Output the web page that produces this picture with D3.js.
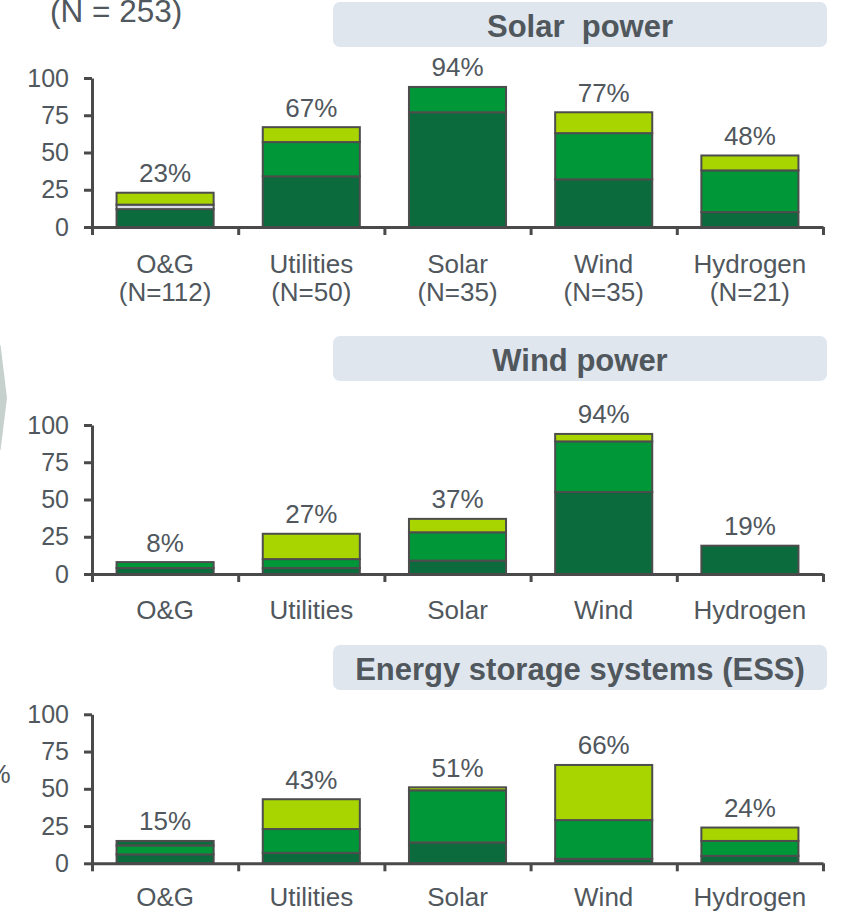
<!DOCTYPE html>
<html>
<head>
<meta charset="utf-8">
<script src="https://cdn.jsdelivr.net/npm/d3@7"></script>
<style>
  html, body { margin: 0; padding: 0; background: #ffffff; }
  svg { display: block; font-family: Arial, "Liberation Sans", sans-serif; }
</style>
</head>
<body>
<svg id="chart" width="843" height="913"></svg>
<script>
// Categories and sample sizes
const categories = ["O&G", "Utilities", "Solar", "Wind", "Hydrogen"];
const sampleSizes = ["(N=112)", "(N=50)", "(N=35)", "(N=35)", "(N=21)"];
const yTicks = [0, 25, 50, 75, 100];
const panelTitles = ["Solar  power", "Wind power", "Energy storage systems (ESS)"];
const totalSample = "(N = 253)";

// Solar power — stacked shares (%)
const solarDark  = [12, 34, 77, 32, 10];
const solarMid   = [0, 23, 17, 31, 28];
const solarGrey  = [3, 0, 0, 0, 0];
const solarLight = [8, 10, 0, 14, 10];
const solarTop   = [0, 0, 0, 0, 0];

// Wind power — stacked shares (%)
const windDark  = [4, 4, 9, 55, 19];
const windMid   = [4, 6, 19, 34, 0];
const windGrey  = [0, 0, 0, 0, 0];
const windLight = [0, 17, 9, 5, 0];
const windTop   = [0, 0, 0, 0, 0];

// Energy storage systems — stacked shares (%)
const essDark  = [6, 7, 14, 3, 5];
const essMid   = [6, 16, 35, 26, 10];
const essGrey  = [0, 0, 0, 0, 0];
const essLight = [0, 20, 2, 37, 9];
const essTop   = [3, 0, 0, 0, 0];

const seriesKeys = ["dark", "mid", "grey", "light", "top"];
const seriesColors = {
  dark: "#0b6b3d",
  mid: "#009739",
  grey: "#d9dfe4",
  light: "#a8d400",
  top: "#0b6b3d"
};

function buildRows(dark, mid, grey, light, top) {
  return categories.map((c, i) => ({
    category: c, dark: dark[i], mid: mid[i], grey: grey[i], light: light[i], top: top[i]
  }));
}

const panels = [
  { title: panelTitles[0], rows: buildRows(solarDark, solarMid, solarGrey, solarLight, solarTop),
    boxTop: 2, y0: 227, y100: 78, labelGap: 45.5, showN: true },
  { title: panelTitles[1], rows: buildRows(windDark, windMid, windGrey, windLight, windTop),
    boxTop: 336, y0: 574, y100: 425, labelGap: 44.5, showN: false },
  { title: panelTitles[2], rows: buildRows(essDark, essMid, essGrey, essLight, essTop),
    boxTop: 645, y0: 863.3, y100: 714.3, labelGap: 42.5, showN: false }
];

const textColor = "#50575d";
const axisColor = "#4a4a4a";
const svg = d3.select("#chart");

// Side chevron
svg.append("polygon")
  .attr("points", "-10,345 0.5,345 7,398 0.5,450 -10,450")
  .attr("fill", "#c6d0cc");

// Axis unit on the left edge
svg.append("text")
  .attr("x", 10.5).attr("y", 783)
  .attr("text-anchor", "end")
  .attr("font-size", 26)
  .attr("fill", textColor)
  .text("%");

// Total sample size
svg.append("text")
  .attr("x", 50).attr("y", 22)
  .attr("font-size", 31.5)
  .attr("fill", textColor)
  .text(totalSample);

const xLeft = 92, xRight = 823;
const x = d3.scaleBand()
  .domain(categories)
  .range([xLeft, xRight])
  .paddingInner(0.336)
  .paddingOuter(0.168);

const stack = d3.stack().keys(seriesKeys);

panels.forEach(p => {
  const g = svg.append("g");
  const y = d3.scaleLinear().domain([0, 100]).range([p.y0, p.y100]);

  // Title box
  g.append("rect")
    .attr("x", 333).attr("y", p.boxTop)
    .attr("width", 494).attr("height", 45)
    .attr("rx", 7)
    .attr("fill", "#dfe6ee");
  g.append("text")
    .attr("x", 580).attr("y", p.boxTop + 35)
    .attr("text-anchor", "middle")
    .attr("font-size", 31)
    .attr("font-weight", "bold")
    .attr("fill", textColor)
    .attr("xml:space", "preserve")
    .style("white-space", "pre")
    .text(p.title);

  // Stacked bars
  const stacked = stack(p.rows);
  stacked.forEach(layer => {
    g.append("g")
      .selectAll("rect")
      .data(layer.filter(d => d[1] - d[0] > 0))
      .join("rect")
      .attr("x", d => x(d.data.category))
      .attr("width", x.bandwidth())
      .attr("y", d => y(d[1]))
      .attr("height", d => y(d[0]) - y(d[1]))
      .attr("fill", seriesColors[layer.key])
      .attr("stroke", "#4d4d4d")
      .attr("stroke-width", 2);
  });

  // Value labels (sum of the stack)
  g.append("g")
    .selectAll("text")
    .data(p.rows)
    .join("text")
    .attr("x", d => x(d.category) + x.bandwidth() / 2)
    .attr("y", d => y(d3.sum(seriesKeys, k => d[k])) - 10.5)
    .attr("text-anchor", "middle")
    .attr("font-size", 26)
    .attr("fill", textColor)
    .text(d => d3.sum(seriesKeys, k => d[k]) + "%");

  // Y axis
  const yAxis = d3.axisLeft(y)
    .tickValues(yTicks)
    .tickSize(8)
    .tickSizeOuter(0)
    .tickPadding(15);
  const ya = g.append("g")
    .attr("transform", `translate(${xLeft},0)`)
    .call(yAxis);
  ya.select(".domain").attr("stroke", axisColor).attr("stroke-width", 3);
  ya.selectAll(".tick line").attr("stroke", axisColor).attr("stroke-width", 3);
  ya.selectAll(".tick text")
    .attr("font-size", 25)
    .attr("font-family", "Arial, 'Liberation Sans', sans-serif")
    .attr("fill", textColor);

  // X axis with ticks between categories
  const xPos = d3.scaleLinear().domain([0, categories.length]).range([xLeft, xRight]);
  const xAxis = d3.axisBottom(xPos)
    .tickValues(d3.range(categories.length + 1))
    .tickSize(8)
    .tickSizeOuter(0)
    .tickFormat("");
  const xa = g.append("g")
    .attr("transform", `translate(0,${p.y0})`)
    .call(xAxis);
  xa.select(".domain").attr("stroke", axisColor).attr("stroke-width", 3);
  xa.selectAll(".tick line").attr("stroke", axisColor).attr("stroke-width", 3);

  // Category labels
  const labels = g.append("g")
    .selectAll("text")
    .data(categories)
    .join("text")
    .attr("x", d => x(d) + x.bandwidth() / 2)
    .attr("y", p.y0 + p.labelGap)
    .attr("text-anchor", "middle")
    .attr("font-size", 26)
    .attr("fill", textColor);
  labels.append("tspan").text(d => d);
  if (p.showN) {
    labels.append("tspan")
      .attr("x", d => x(d) + x.bandwidth() / 2)
      .attr("dy", 28)
      .text((d, i) => sampleSizes[i]);
  }
});
</script>
</body>
</html>
